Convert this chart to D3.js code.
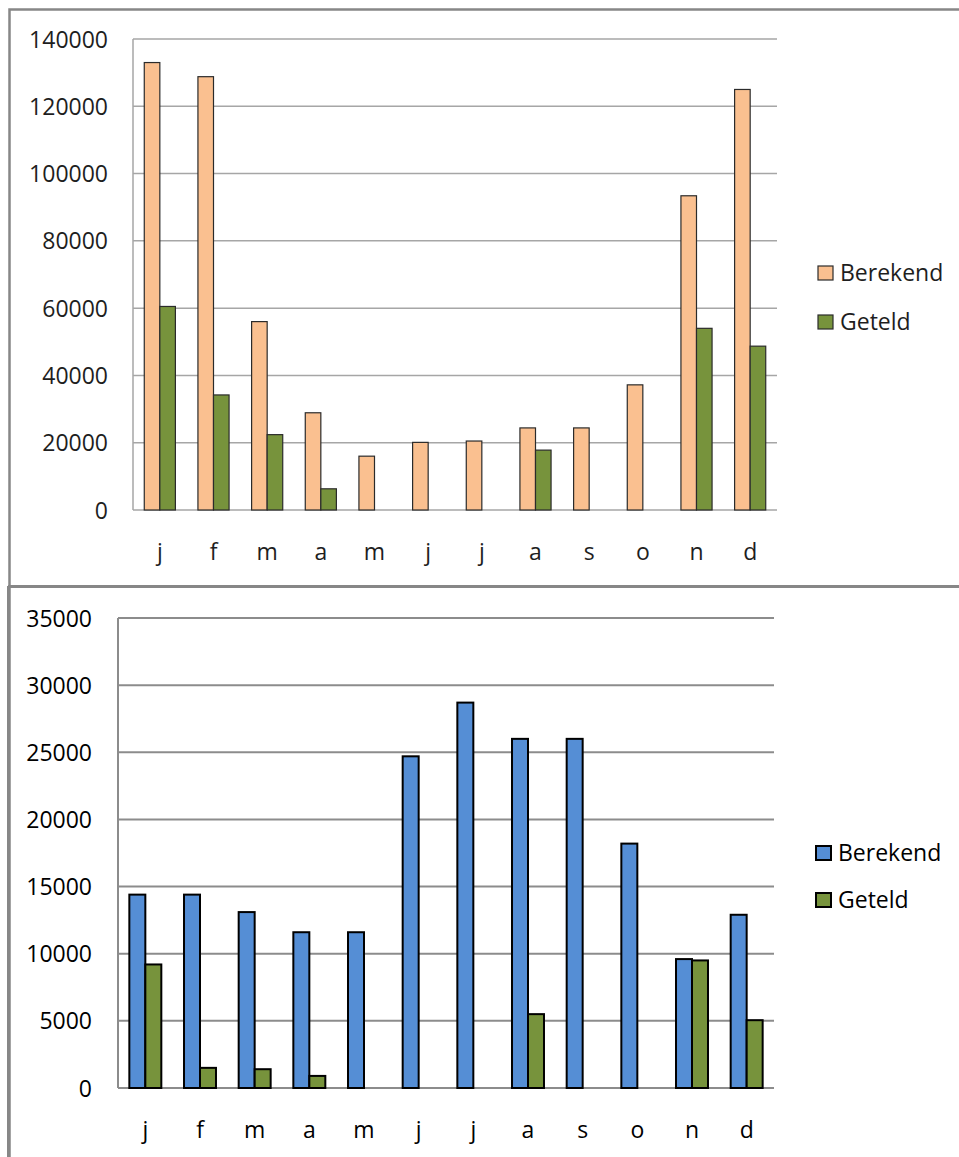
<!DOCTYPE html>
<html>
<head>
<meta charset="utf-8">
<script src="https://cdn.jsdelivr.net/npm/d3@7"></script>
<style>
  html, body { margin: 0; padding: 0; background: #fff; }
  svg { display: block; }
  text { font-family: "Open Sans", "Liberation Sans", sans-serif; }
</style>
</head>
<body>
<svg id="chart" width="959" height="1157"></svg>
<script>
// Month initials on the category axis
const months = ["j", "f", "m", "a", "m", "j", "j", "a", "s", "o", "n", "d"];
const seriesNames = ["Berekend", "Geteld"];

// Upper chart (large totals)
const topBerekend = [133000, 128800, 56000, 28900, 16000, 20100, 20500, 24400, 24400, 37200, 93400, 125000];
const topGeteld   = [60500, 34200, 22400, 6300, null, null, null, 17800, null, null, 54000, 48700];
const topTicks    = [0, 20000, 40000, 60000, 80000, 100000, 120000, 140000];

// Lower chart
const bottomBerekend = [14400, 14400, 13100, 11600, 11600, 24700, 28700, 26000, 26000, 18200, 9600, 12900];
const bottomGeteld   = [9200, 1500, 1400, 900, null, null, null, 5500, null, null, 9500, 5050];
const bottomTicks    = [0, 5000, 10000, 15000, 20000, 25000, 30000, 35000];

const svg = d3.select("#chart");

// Panel frames
svg.append("path")
  .attr("d", "M 9.5 1200 V 9.5 H 1000")
  .attr("fill", "none").attr("stroke", "#878787").attr("stroke-width", 2.5);
svg.append("line")
  .attr("x1", 8).attr("x2", 1000).attr("y1", 586.5).attr("y2", 586.5)
  .attr("stroke", "#878787").attr("stroke-width", 3);
svg.append("line")
  .attr("x1", 8).attr("x2", 8).attr("y1", 586).attr("y2", 1200)
  .attr("stroke", "#878787").attr("stroke-width", 2);

function drawPanel(cfg) {
  const g = svg.append("g");
  const x = d3.scaleBand()
    .domain(d3.range(months.length))
    .range([cfg.left, cfg.right])
    .paddingInner(cfg.padInner)
    .paddingOuter(cfg.padInner / 2);
  const xs = d3.scaleBand().domain(seriesNames).range([0, x.bandwidth()]);
  const y = d3.scaleLinear().domain([0, cfg.ticks[cfg.ticks.length - 1]]).range([cfg.bottom, cfg.top]);

  // horizontal gridlines
  g.append("g").selectAll("line")
    .data(cfg.ticks)
    .join("line")
    .attr("x1", cfg.left).attr("x2", cfg.right)
    .attr("y1", d => y(d)).attr("y2", d => y(d))
    .attr("stroke", cfg.gridColor).attr("stroke-width", cfg.gridWidth);

  // vertical axis line
  g.append("line")
    .attr("x1", cfg.left).attr("x2", cfg.left)
    .attr("y1", cfg.top).attr("y2", cfg.bottom)
    .attr("stroke", cfg.gridColor).attr("stroke-width", cfg.gridWidth);

  // value axis labels
  const yAxis = d3.axisLeft(y).tickValues(cfg.ticks).tickFormat(d3.format("d")).tickSize(0).tickPadding(0);
  const ya = g.append("g").attr("transform", `translate(${cfg.labelRight},0)`).call(yAxis);
  ya.select(".domain").remove();
  ya.selectAll("text")
    .attr("font-size", 23).attr("fill", cfg.textColor)
    .attr("font-family", "'Open Sans', sans-serif")
    .attr("dy", "0.35em");

  // category axis labels
  const xAxis = d3.axisBottom(x).tickFormat(i => months[i]).tickSize(0).tickPadding(0);
  const xa = g.append("g").attr("transform", `translate(0,${cfg.catY})`).call(xAxis);
  xa.select(".domain").remove();
  xa.selectAll("text")
    .attr("font-size", 23).attr("fill", cfg.textColor)
    .attr("font-family", "'Open Sans', sans-serif")
    .attr("dy", "0.35em").attr("y", 0);

  // bars
  const rows = [];
  months.forEach((m, i) => {
    rows.push({ i, s: "Berekend", v: cfg.berekend[i] });
    rows.push({ i, s: "Geteld", v: cfg.geteld[i] });
  });
  g.append("g").selectAll("rect")
    .data(rows.filter(r => r.v != null))
    .join("rect")
    .attr("x", d => x(d.i) + xs(d.s))
    .attr("width", xs.bandwidth())
    .attr("y", d => y(d.v))
    .attr("height", d => cfg.bottom - y(d.v))
    .attr("fill", d => cfg.colors[d.s])
    .attr("stroke", cfg.barStroke)
    .attr("stroke-width", cfg.barStrokeWidth);

  // legend
  const lg = g.append("g").selectAll("g")
    .data(seriesNames)
    .join("g")
    .attr("transform", (d, k) => `translate(${cfg.legendX},${cfg.legendY + k * cfg.legendGap})`);
  lg.append("rect")
    .attr("x", 0).attr("y", -7).attr("width", 15).attr("height", 14)
    .attr("fill", d => cfg.colors[d])
    .attr("stroke", cfg.barStroke).attr("stroke-width", cfg.barStrokeWidth);
  lg.append("text")
    .attr("x", 22).attr("y", 0).attr("dy", "0.35em")
    .attr("font-size", 23).attr("fill", cfg.textColor)
    .text(d => d);
}

drawPanel({
  left: 133, right: 777, top: 39, bottom: 510,
  padInner: 0.42,
  ticks: topTicks,
  berekend: topBerekend, geteld: topGeteld,
  colors: { Berekend: "#FAC090", Geteld: "#77933C" },
  gridColor: "#a6a6a6", gridWidth: 1.5,
  barStroke: "#2b2b2b", barStrokeWidth: 1.2,
  textColor: "#1e1e1e",
  labelRight: 108, catY: 552,
  legendX: 818, legendY: 273, legendGap: 49
});

drawPanel({
  left: 118, right: 774, top: 618, bottom: 1088,
  padInner: 0.415,
  ticks: bottomTicks,
  berekend: bottomBerekend, geteld: bottomGeteld,
  colors: { Berekend: "#558ED5", Geteld: "#77933C" },
  gridColor: "#8c8c8c", gridWidth: 2,
  barStroke: "#000", barStrokeWidth: 2,
  textColor: "#000",
  labelRight: 92, catY: 1130,
  legendX: 816, legendY: 853, legendGap: 47
});
</script>
</body>
</html>
